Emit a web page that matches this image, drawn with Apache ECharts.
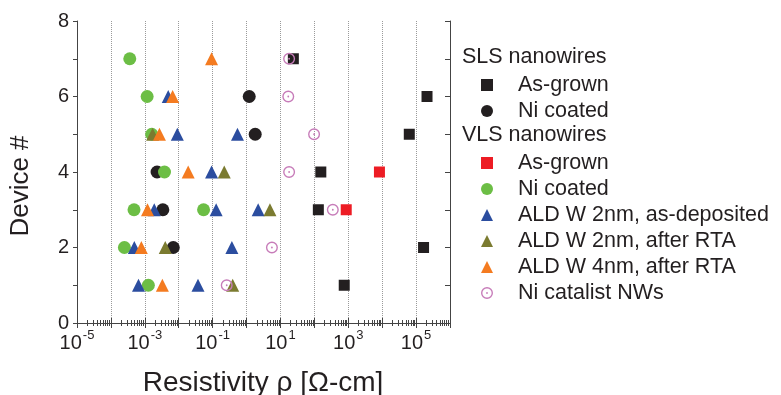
<!DOCTYPE html>
<html><head><meta charset="utf-8">
<script src="https://cdn.jsdelivr.net/npm/echarts@6/dist/echarts.min.js"></script>
<style>html,body{margin:0;padding:0;background:#fff}#c{width:781px;height:395px}</style>
</head><body><div id="c"></div>
<script>
// ---- data: [resistivity (ohm-cm), device #] ----
const slsAsGrown   = [[24,7],[2.1e5,6],[6.3e4,5],[155,4],[131,3],[1.66e5,2],[760,1]];
const slsNiCoated  = [[1.2,6],[1.8,5],[2.3e-3,4],[3.4e-3,3],[6.9e-3,2]];
const vlsAsGrown   = [[8.3e3,4],[870,3]];
const vlsNiCoated  = [[3.6e-4,7],[1.17e-3,6],[1.6e-3,5],[3.8e-3,4],[4.8e-4,3],[0.054,3],[2.5e-4,2],[1.27e-3,1]];
const ald2Dep      = [[4.9e-3,6],[9.1e-3,5],[0.54,5],[0.093,4],[1.9e-3,3],[0.127,3],[2.2,3],[4.9e-4,2],[0.37,2],[6.5e-4,1],[0.037,1]];
const ald2Rta      = [[1.7e-3,5],[0.22,4],[4.9,3],[4.0e-3,2],[0.39,1]];
const ald4Rta      = [[0.093,7],[6.6e-3,6],[2.7e-3,5],[0.019,4],[1.2e-3,3],[7.9e-4,2],[3.3e-3,1]];
const niCatalist   = [[18,7],[17,6],[98,5],[18,4],[350,3],[5.6,2],[0.26,1]];

const groupHeaders = ['SLS nanowires','VLS nanowires'];
const slsNames = ['SLS As-grown','SLS Ni coated'];
const vlsNames = ['VLS As-grown','VLS Ni coated','ALD W 2nm, as-deposited','ALD W 2nm, after RTA','ALD W 4nm, after RTA','Ni catalist NWs'];
const xTitle = 'Resistivity ρ [Ω-cm]';
const yTitle = 'Device #';
const xMin = 1e-5, xMax = 1e6, yMin = 0, yMax = 8;
const xDecades = 11;

const FONT = '"Liberation Sans", Arial, Helvetica, sans-serif';
const TXT = '#231f20';
const ringPath = 'path://M10,0A10,10,0,1,1,10,20A10,10,0,1,1,10,0ZM10,2.3A7.7,7.7,0,1,0,10,17.7A7.7,7.7,0,1,0,10,2.3ZM10,8.5A1.5,1.5,0,1,1,10,11.5A1.5,1.5,0,1,1,10,8.5Z';

const specs = [
  {name: slsNames[0], data: slsAsGrown, symbol: 'rect', size: 11, color: '#231f20'},
  {name: slsNames[1], data: slsNiCoated, symbol: 'circle', size: 13, color: '#231f20'},
  {name: vlsNames[0], data: vlsAsGrown, symbol: 'rect', size: 11, color: '#ed1c24'},
  {name: vlsNames[1], data: vlsNiCoated, symbol: 'circle', size: 13, color: '#6cbe45'},
  {name: vlsNames[2], data: ald2Dep, symbol: 'triangle', size: 13, color: '#2b4d9f'},
  {name: vlsNames[3], data: ald2Rta, symbol: 'triangle', size: 13, color: '#7b7b30'},
  {name: vlsNames[4], data: ald4Rta, symbol: 'triangle', size: 13, color: '#f47b20'},
  {name: vlsNames[5], data: niCatalist, symbol: ringPath, size: 12, color: '#c77cb9'}
];

const series = specs.map((s, i) => ({
  type: 'scatter', name: s.name, data: s.data, symbol: s.symbol, symbolSize: s.size,
  itemStyle: {color: s.color, opacity: 1}, z: 2 + i, xAxisIndex: 0, yAxisIndex: 0,
  emphasis: {disabled: true}
}));

const axisLineStyle = {color: '#444', width: 1};
const legendCommon = {
  orient: 'vertical', left: 481, padding: 0, itemGap: 4, itemWidth: 12, itemHeight: 12,
  selectedMode: false,
  textStyle: {fontSize: 21.5, fontFamily: FONT, color: TXT, lineHeight: 20, padding: [0, 0, 0, 20]},
  formatter: n => n.replace(/^(SLS|VLS) /, '')
};

function makeX(extra, top) {
  const base = {
    type: 'log', logBase: 10, min: xMin, max: xMax, splitNumber: xDecades,
    position: top ? 'top' : 'bottom',
    axisLine: {show: true, lineStyle: axisLineStyle},
    axisTick: {show: true, inside: true, length: 5, lineStyle: axisLineStyle},
    minorTick: {show: true, splitNumber: 9, length: 3, lineStyle: axisLineStyle}
  };
  if (top) {
    Object.assign(base, {splitLine: {show: false}, axisLabel: {show: false}});
  } else {
    Object.assign(base, {
      splitLine: {show: true, lineStyle: {color: '#9a9a9a', type: 'dotted', width: 1}},
      axisLabel: {
        margin: 6, color: TXT,
        formatter: v => {
          const e = Math.round(Math.log10(v));
          if (Math.abs(e % 2) !== 1) return '';
          return '{b|10}{s|' + e + '}';
        },
        rich: {
          b: {fontSize: 20, fontFamily: FONT, color: TXT, verticalAlign: 'bottom', lineHeight: 24},
          s: {fontSize: 13, fontFamily: FONT, color: TXT, verticalAlign: 'top', lineHeight: 24, padding: [0, 0, 0, 1]}
        }
      }
    });
  }
  return Object.assign(base, extra || {});
}

const chart = echarts.init(document.getElementById('c'), null, {renderer: 'canvas'});
function build(extra) {
  return {
    animation: false,
    backgroundColor: '#fff',
    grid: {left: 77, right: 331, top: 21, bottom: 72, containLabel: false, outerBoundsMode: 'none'},
    xAxis: [makeX(extra, false), makeX(extra, true)],
    yAxis: [{
      type: 'value', min: yMin, max: yMax, interval: 1, position: 'left',
      axisLine: {show: true, lineStyle: axisLineStyle},
      axisTick: {show: true, inside: false, length: 4, lineStyle: axisLineStyle},
      splitLine: {show: false},
      axisLabel: {margin: 8, fontSize: 20, fontFamily: FONT, color: TXT,
        formatter: v => (v % 2 === 0 ? String(v) : '')}
    }, {
      type: 'value', min: yMin, max: yMax, interval: 1, position: 'right',
      axisLine: {show: true, lineStyle: axisLineStyle},
      axisTick: {show: true, inside: true, length: 5, lineStyle: axisLineStyle},
      splitLine: {show: false}, axisLabel: {show: false}
    }],
    legend: [
      Object.assign({top: 74, data: slsNames}, legendCommon),
      Object.assign({top: 152, data: vlsNames}, legendCommon)
    ],
    graphic: [
      {type: 'text', left: 462, top: 46, style: {text: groupHeaders[0], fontSize: 21.5, fontFamily: FONT, fill: TXT}},
      {type: 'text', left: 462, top: 124, style: {text: groupHeaders[1], fontSize: 21.5, fontFamily: FONT, fill: TXT}},
      {type: 'text', x: 21, y: 186, rotation: Math.PI / 2,
        style: {text: yTitle, fontSize: 26, fontFamily: FONT, fill: TXT, align: 'center', verticalAlign: 'middle'}},
      {type: 'text', x: 263, y: 383,
        style: {text: xTitle, fontSize: 28, fontFamily: FONT, fill: TXT, align: 'center', verticalAlign: 'middle'}}
    ],
    series: series
  };
}
function tickCount() {
  try {
    const ax = chart.getModel().getComponent('xAxis', 0).axis;
    return ax.scale.getTicks().length;
  } catch (e) { return -1; }
}
const tries = [{}, {interval: 1}, {interval: 10}, {splitNumber: 22}, {splitNumber: 5}];
for (let i = 0; i < tries.length; i++) {
  chart.setOption(build(tries[i]), true);
  if (tickCount() === xDecades + 1) break;
  if (i === tries.length - 1) chart.setOption(build(tries[0]), true);
}
</script>
</body></html>
